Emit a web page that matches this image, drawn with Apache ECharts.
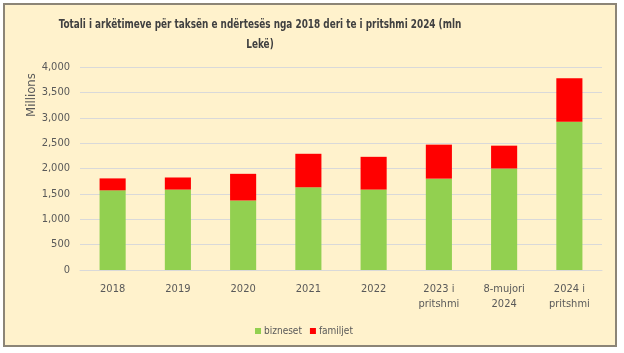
<!DOCTYPE html>
<html>
<head>
<meta charset="utf-8">
<script src="https://cdn.jsdelivr.net/npm/echarts@6/dist/echarts.min.js"></script>
<style>
  html, body { margin: 0; padding: 0; background: #ffffff; }
  #chart { width: 624px; height: 353px; }
</style>
</head>
<body>
<div id="chart"></div>
<script>
const categories = ["2018", "2019", "2020", "2021", "2022", "2023 i\npritshmi", "8-mujori\n2024", "2024 i\npritshmi"];
const bizneset = [1570, 1585, 1370, 1630, 1585, 1800, 2000, 2920];
const familjet = [235, 238, 525, 660, 645, 670, 450, 860];

const font = "'DejaVu Sans Condensed', 'Liberation Sans', sans-serif";

const chart = echarts.init(document.getElementById("chart"));

const option = {
  backgroundColor: "#ffffff",
  animation: false,
  textStyle: { fontFamily: font },
  graphic: [
    {
      type: "rect",
      z: -10,
      shape: { x: 4, y: 4, width: 612, height: 342 },
      style: { fill: "#FFF2CC", stroke: "#8c8577", lineWidth: 2 },
    },
    {
      type: "text",
      x: 32,
      y: 95,
      rotation: Math.PI / 2,
      style: {
        text: "Millions",
        fill: "#595959",
        font: "13px " + font,
        align: "center",
        verticalAlign: "middle",
      },
    },
    // title drawn as text squeezed horizontally, like the narrow original
    {
      type: "text",
      x: 260,
      y: 35,
      scaleX: 0.76,
      style: {
        text: "Totali i arkëtimeve për taksën e ndërtesës nga 2018 deri te i pritshmi 2024 (mln\nLekë)",
        fill: "#404040",
        font: "bold 13px " + font,
        align: "center",
        verticalAlign: "middle",
        lineHeight: 20,
      },
    },
  ],
  legend: {
    top: 321,
    left: 250,
    itemWidth: 6,
    itemHeight: 6,
    itemGap: 8,
    icon: "rect",
    data: ["bizneset", "familjet"],
    textStyle: { color: "#595959", fontSize: 10, fontFamily: font, padding: [0, 0, 0, -2] },
  },
  grid: { left: 80, right: 22, top: 67, bottom: 83 },
  xAxis: {
    type: "category",
    data: categories,
    axisLine: { lineStyle: { color: "#d9d9d9" } },
    axisTick: { show: false },
    axisLabel: { color: "#595959", fontSize: 11, fontFamily: font, margin: 12, lineHeight: 15 },
  },
  yAxis: {
    type: "value",
    min: 0,
    max: 4000,
    interval: 500,
    axisLine: { show: false },
    axisTick: { show: false },
    splitLine: { lineStyle: { color: "#d9d9d9" } },
    axisLabel: {
      color: "#595959",
      fontSize: 11,
      fontFamily: font,
      margin: 10,
      formatter: (v) => v.toLocaleString("en-US"),
    },
  },
  series: [
    {
      name: "bizneset",
      type: "bar",
      stack: "total",
      barWidth: "40%",
      data: bizneset,
      itemStyle: { color: "#92D050" },
    },
    {
      name: "familjet",
      type: "bar",
      stack: "total",
      barWidth: "40%",
      data: familjet,
      itemStyle: { color: "#FF0000" },
    },
  ],
};

chart.setOption(option);
</script>
</body>
</html>
